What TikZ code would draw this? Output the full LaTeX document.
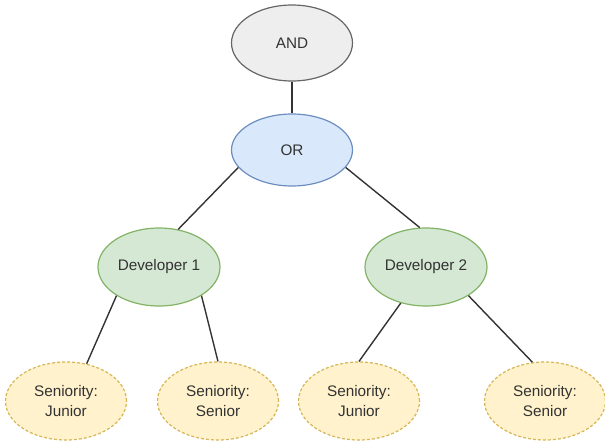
\documentclass[tikz,border=0pt]{standalone}
\usepackage{fontspec}
\setmainfont{Liberation Sans}
\usetikzlibrary{shapes.geometric}
\definecolor{txt}{HTML}{333333}
\definecolor{andfill}{HTML}{EEEEEE}
\definecolor{andline}{HTML}{666666}
\definecolor{orfill}{HTML}{DAE8FC}
\definecolor{orline}{HTML}{6C8EBF}
\definecolor{devfill}{HTML}{D5E8D4}
\definecolor{devline}{HTML}{82B366}
\definecolor{senfill}{HTML}{FFF2CC}
\definecolor{senline}{HTML}{D6B656}
\definecolor{edge}{HTML}{333333}
\begin{document}
\begin{tikzpicture}[x=1pt,y=-1pt,
  base/.style={ellipse, line width=1.2pt, text=txt, inner sep=0pt,
    font=\fontsize{15.3}{19.5}\selectfont, align=center},
  andnode/.style={base, draw=andline, fill=andfill, minimum width=121pt, minimum height=76pt},
  ornode/.style={base, draw=orline, fill=orfill, minimum width=121pt, minimum height=72pt},
  devnode/.style={base, draw=devline, fill=devfill, minimum width=122pt, minimum height=78pt},
  sennode/.style={base, draw=senline, fill=senfill, dashed, dash pattern=on 3pt off 2pt, minimum width=121pt, minimum height=78pt},
  conn/.style={draw=edge, line width=1.4pt}]
\useasboundingbox (0,0) rectangle (605,445);
\node[andnode] (and) at (292,43) {AND};
\node[ornode] (or) at (292,150) {OR};
\node[devnode] (dev1) at (159,267) {Developer 1};
\node[devnode] (dev2) at (426,267) {Developer 2};
\node[sennode] (j1) at (66,401) {Seniority:\\Junior};
\node[sennode] (s1) at (218,401) {Seniority:\\Senior};
\node[sennode] (j2) at (359,401) {Seniority:\\Junior};
\node[sennode] (s2) at (545,401) {Seniority:\\Senior};
\draw[conn] (and.south) -- (or.north);
\draw[conn] (or.198) -- (dev1.63);
\draw[conn] (or.-18) -- (dev2.99);
\draw[conn] (dev1.214) -- (j1.61);
\draw[conn] (dev1.-34) -- (s1.90);
\draw[conn] (dev2.235) -- (j2.90);
\draw[conn] (dev2.-34) -- (s2.108);
\end{tikzpicture}
\end{document}
